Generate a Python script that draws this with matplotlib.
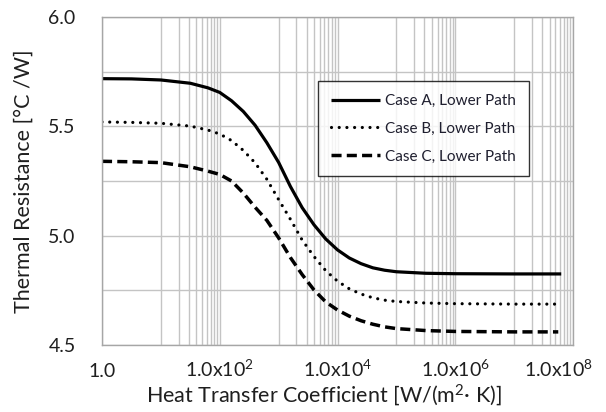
import numpy as np
import matplotlib
matplotlib.use("Agg")
import matplotlib.pyplot as plt
import matplotlib.transforms as mtransforms
from matplotlib.ticker import FixedLocator, NullFormatter

plt.rcParams['font.family'] = ['Lato', 'DejaVu Sans']
plt.rcParams['mathtext.fontset'] = 'custom'
plt.rcParams['mathtext.rm'] = 'Lato'
plt.rcParams['mathtext.it'] = 'Lato'

# log10 of heat transfer coefficient and thermal resistance
logh_a = [0, 0.5, 1.0, 1.5, 1.8, 2.0, 2.2, 2.4, 2.6, 2.8, 3.0, 3.2, 3.4, 3.6, 3.8,
          4.0, 4.2, 4.4, 4.6, 4.8, 5.0, 5.5, 6.0, 7.0, 7.8]
res_a = [5.718, 5.717, 5.712, 5.697, 5.676, 5.655, 5.617, 5.568, 5.505, 5.425, 5.335,
         5.225, 5.128, 5.050, 4.985, 4.935, 4.898, 4.872, 4.853, 4.842, 4.835, 4.828,
         4.826, 4.825, 4.825]

logh_b = [0, 0.5, 1.0, 1.5, 1.8, 2.0, 2.2, 2.4, 2.6, 2.8, 3.0, 3.2, 3.4, 3.6, 3.8,
          4.0, 4.2, 4.4, 4.6, 4.8, 5.0, 5.5, 6.0, 7.0, 7.75]
res_b = [5.520, 5.518, 5.514, 5.501, 5.483, 5.465, 5.435, 5.390, 5.333, 5.258, 5.165,
         5.075, 4.980, 4.905, 4.840, 4.792, 4.757, 4.733, 4.716, 4.705, 4.699, 4.692,
         4.689, 4.687, 4.687]

logh_c = [0, 0.5, 1.0, 1.5, 1.8, 2.0, 2.2, 2.4, 2.6, 2.8, 3.0, 3.2, 3.4, 3.6, 3.8,
          4.0, 4.2, 4.4, 4.6, 4.8, 5.0, 5.5, 6.0, 7.0, 7.75]
res_c = [5.340, 5.338, 5.334, 5.315, 5.295, 5.280, 5.250, 5.195, 5.130, 5.070, 4.990,
         4.900, 4.822, 4.752, 4.697, 4.660, 4.632, 4.611, 4.595, 4.583, 4.575, 4.566,
         4.562, 4.560, 4.560]

labels = ['Case A, Lower Path', 'Case B, Lower Path', 'Case C, Lower Path']
xticks = [1, 1e2, 1e4, 1e6, 1e8]
xticklabels = ['1.0', r'1.0x10$^{2}$', r'1.0x10$^{4}$', r'1.0x10$^{6}$', r'1.0x10$^{8}$']
yticks = [4.5, 5.0, 5.5, 6.0]
yticklabels = ['4.5', '5.0', '5.5', '6.0']

fig = plt.figure(figsize=(6.06, 4.12), dpi=100)
ax = fig.add_axes([102/606, 1 - 345/412, 471/606, 328/412])

h_a = 10 ** np.array(logh_a)
h_b = 10 ** np.array(logh_b)
h_c = 10 ** np.array(logh_c)

ax.plot(h_a, res_a, color='black', lw=2.3, solid_capstyle='butt',
        solid_joinstyle='round', label=labels[0])
ax.plot(h_b, res_b, color='black', lw=2.3, linestyle=(0, (0.01, 2.4)),
        dash_capstyle='round', label=labels[1])
ax.plot(h_c, res_c, color='black', lw=2.5, linestyle=(0, (2.9, 1.5)),
        dash_capstyle='butt', label=labels[2])

ax.set_xscale('log')
ax.set_xlim(1, 1e8)
ax.set_ylim(4.5, 6.0)

minor_x = []
for base in [1, 1e2, 1e4, 1e6]:
    for m in range(1, 10):
        minor_x.append(base * 10 * m)
ax.set_xticks(xticks)
ax.set_xticklabels(xticklabels)
ax.xaxis.set_minor_locator(FixedLocator(minor_x))
ax.xaxis.set_minor_formatter(NullFormatter())

ax.set_yticks(yticks)
ax.set_yticklabels(yticklabels)
ax.yaxis.set_minor_locator(FixedLocator([4.75, 5.25, 5.75]))

ax.grid(True, which='both', color='#c4c4c4', lw=1.0)
ax.set_axisbelow(True)
for s in ax.spines.values():
    s.set_color('#a6a6a6')
    s.set_linewidth(1.0)

ax.tick_params(which='both', length=0)
ax.tick_params(axis='y', pad=19, labelsize=14, labelcolor='#1f1f1f')
ax.tick_params(axis='x', pad=23, labelsize=14, labelcolor='#1f1f1f')
xlabs = ax.get_xticklabels()
for lab in xlabs:
    lab.set_verticalalignment('baseline')
# last label is shifted left to stay inside the figure, as in the reference
xlabs[-1].set_transform(xlabs[-1].get_transform() +
                        mtransforms.ScaledTranslation(-15/100, 0, fig.dpi_scale_trans))

ax.set_xlabel('Heat Transfer Coefficient [W/(m$^{2}$\u00b7 K)]', fontsize=15.5, color='#1f1f1f')
ax.set_ylabel('Thermal Resistance [\u00b0C /W]', fontsize=15.5, color='#1f1f1f')
ax.xaxis.set_label_coords(0.471, -0.112)
ax.yaxis.set_label_coords(-0.146, 0.5)

leg = ax.legend(loc='upper left', bbox_to_anchor=((318-102)/471, (345-81)/328),
                fontsize=11, frameon=True, fancybox=False, edgecolor='black',
                handlelength=3.2, handletextpad=0.35, labelspacing=0.9,
                borderpad=0.85, borderaxespad=0)
leg.get_frame().set_linewidth(1.0)
for t in leg.get_texts():
    t.set_color('#1f1f2f')

fig.savefig('out.png', dpi=100)
